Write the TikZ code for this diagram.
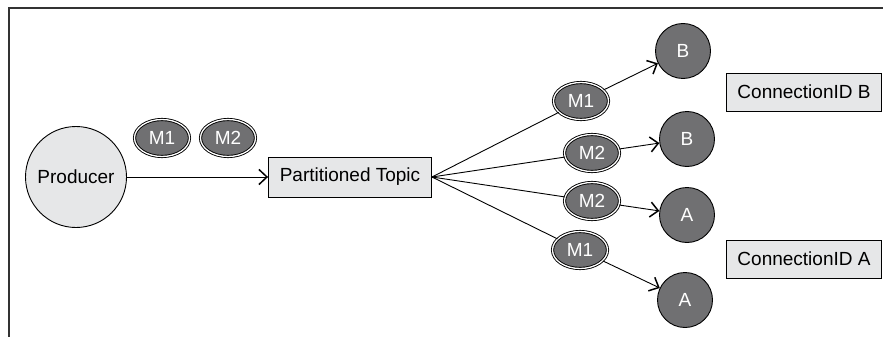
\documentclass[tikz,border=0pt]{standalone}
\usepackage{fontspec}
\setmainfont{Liberation Sans}
\usetikzlibrary{arrows.meta,positioning,shapes.geometric}
\definecolor{lightfill}{RGB}{230,231,232}
\definecolor{darkfill}{RGB}{112,112,114}
\tikzstyle{producer}=[draw,fill=lightfill,circle,minimum size=101pt,inner sep=0pt]
\tikzstyle{topic}=[draw,fill=lightfill,rectangle,minimum width=163pt,minimum height=40pt,inner sep=0pt]
\tikzstyle{connid}=[draw,fill=lightfill,rectangle,minimum width=155pt,minimum height=38pt,inner sep=0pt]
\tikzstyle{msg}=[draw,double=white,double distance=1.3pt,fill=darkfill,ellipse,minimum width=55pt,minimum height=37pt,inner sep=0pt,text=white]
\tikzstyle{consumer}=[draw,fill=darkfill,circle,minimum size=55pt,inner sep=0pt,text=white]
\tikzstyle{flow}=[-{Straight Barb[length=8pt,width=15pt,line width=1.5pt]}]

\begin{document}
\begin{tikzpicture}[x=1pt,y=-1pt,line width=0.9pt,font=\fontsize{19}{23}\selectfont]
\useasboundingbox (0,0) rectangle (883,337);
\draw[black!80,line width=1.3pt] (9,337) -- (9,8) -- (883,8);

\node [producer] (producer) at (76,177) {Producer};
\node [msg] (m1in) at (162,138) {M1};
\node [msg] (m2in) at (228,138) {M2};
\node [topic] (topic) at (350,177) {Partitioned Topic};

\node [msg] (m1b) at (581,101) {M1};
\node [msg] (m2b) at (592,153) {M2};
\node [msg] (m2a) at (592,201) {M2};
\node [msg] (m1a) at (580,250) {M1};

\node [consumer] (b1) at (683,51) {B};
\node [consumer] (b2) at (687,139) {B};
\node [consumer] (a1) at (687,215) {A};
\node [consumer] (a2) at (685,300) {A};

\node [connid] (connb) at (804,92) {ConnectionID B};
\node [connid] (conna) at (804,259) {ConnectionID A};

\draw [flow] (producer) -- (topic);
\foreach \m/\c in {m1b/b1,m2b/b2,m2a/a1,m1a/a2} {
  \draw (topic.east) -- (\m);
  \draw [flow] (\m) -- (\c);
}
\end{tikzpicture}
\end{document}
